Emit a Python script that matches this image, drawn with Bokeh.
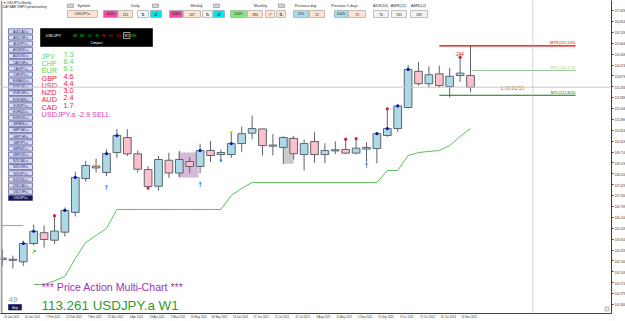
from bokeh.plotting import figure
from bokeh.models import FixedTicker, Span, Label, CustomJSTickFormatter, Range1d
from bokeh.core.properties import value
from bokeh.embed import file_html
from bokeh.resources import INLINE

FONT = "Liberation Sans"

# ---------------- data ----------------
weeks = list(range(46))
opens = [103.92, 103.86, 103.72, 104.72, 105.31, 104.90, 105.34, 106.42, 108.27, 108.95,
         108.60, 109.69, 110.51, 109.62, 108.76, 107.85, 109.27, 108.57, 109.20, 108.93,
         109.80, 109.58, 109.58, 110.18, 110.75, 110.98, 110.10, 109.97, 110.46, 109.58,
         110.29, 109.58, 109.78, 109.86, 109.66, 109.88, 109.91, 110.62, 111.00, 112.15,
         114.13, 113.45, 113.99, 113.30, 113.90, 113.90]
highs = [104.40, 104.06, 104.88, 105.75, 105.70, 106.24, 106.69, 108.64, 109.23, 109.36,
         109.86, 110.97, 110.96, 109.80, 108.95, 109.50, 109.68, 109.78, 109.45, 110.17,
         110.33, 109.85, 110.82, 111.11, 111.71, 111.00, 110.70, 110.58, 110.60, 110.40,
         110.80, 110.20, 110.30, 110.42, 110.45, 110.25, 110.80, 112.08, 112.26, 114.47,
         114.63, 114.39, 114.44, 114.32, 114.90, 115.52]
lows = [103.50, 103.35, 103.50, 104.61, 104.50, 104.70, 105.10, 106.20, 108.10, 108.60,
        108.40, 109.40, 109.50, 108.60, 107.75, 107.60, 108.31, 108.35, 108.56, 108.56,
        109.18, 109.19, 109.40, 109.71, 110.42, 109.53, 109.53, 109.07, 109.30, 108.71,
        109.13, 109.10, 109.60, 109.60, 109.59, 109.15, 109.10, 110.55, 110.82, 112.10,
        113.35, 113.23, 113.23, 112.70, 113.55, 112.99]
closes = [103.84, 103.80, 104.72, 105.39, 104.94, 105.40, 106.53, 108.33, 108.98, 108.85,
          109.63, 110.62, 109.62, 108.78, 107.83, 109.31, 108.57, 109.31, 108.93, 109.80,
          109.53, 109.69, 110.18, 110.72, 111.00, 110.07, 110.04, 110.51, 109.63, 110.18,
          109.58, 109.80, 109.84, 109.66, 109.93, 109.97, 110.72, 111.00, 112.24, 114.23,
          113.45, 113.94, 113.35, 113.86, 114.03, 113.261]

axis_label_weeks = list(range(0, 46, 2))
axis_labels = ["10 Jan 2021", "24 Jan 2021", "7 Feb 2021", "21 Feb 2021", "7 Mar 2021",
               "21 Mar 2021", "4 Apr 2021", "18 Apr 2021", "2 May 2021", "16 May 2021",
               "30 May 2021", "13 Jun 2021", "27 Jun 2021", "11 Jul 2021", "25 Jul 2021",
               "8 Aug 2021", "22 Aug 2021", "5 Sep 2021", "19 Sep 2021", "3 Oct 2021",
               "17 Oct 2021", "31 Oct 2021", "14 Nov 2021"]
price_ticks = [117.449, 116.854, 116.259, 115.664, 115.069, 114.474, 113.879, 113.284,
               112.689, 112.094, 111.499, 110.904, 110.309, 109.714, 109.119, 108.524,
               107.929, 107.334, 106.739, 106.144, 105.549, 104.954, 104.359, 103.764,
               103.169, 102.574, 101.979, 101.384]
bid_price = 113.261

stop_weeks = list(range(3, 46))
stop_values = [102.48, 102.48, 102.68, 102.92, 103.90, 104.78, 105.16, 105.54, 106.58,
               106.58, 106.58, 106.58, 106.58, 106.58, 106.58, 106.58, 106.58, 106.58, 106.58,
               107.34, 107.73,
               108.05, 108.05, 108.05, 108.05, 108.05, 108.05, 108.05, 108.05, 108.05, 108.05,
               108.05, 108.05, 108.05,
               108.71, 108.71, 109.53, 109.69, 109.75, 109.80, 110.07, 110.57, 111.00]

blue_dot_weeks = [2, 3, 6, 7, 10, 11, 19, 22, 36, 37, 38, 39]
red_high_weeks = [5, 33, 34, 37, 44]
red_low_weeks = [14]
yellow_dot_weeks = [9, 22]
yellow_dot_prices = [109.05, 110.80]
small_blue_weeks = [21]
small_blue_prices = [109.25]
up_arrow_weeks = [10, 19, 35]
up_arrow_prices = [107.75, 107.92, 108.96]
green_arrow_weeks = [3]
green_arrow_prices = [104.28]

level_names = ["MTR(115.520)", "MTL(114.174)", "MTL(112.820)"]
level_values = [115.520, 114.174, 112.820]
level_start_weeks = [42, 45, 42]
level_end_week = 55.1
level_colors = ["#e00000", "#9ccc9c", "#0a7a0a"]

pink_level = 105.70
pink_weeks = [-0.2, 2.0]

purple_zone = [16.92, 18.85, 109.69, 108.33]   # left, right, top, bottom
gray_zone = [27.0, 28.0, 110.51, 109.08]
future_line_week = 51.0

currencies = ["JPY", "CHF", "EUR", "GBP", "USD", "NZD", "AUD", "CAD"]
strengths = [7.3, 6.4, 6.1, 4.6, 4.4, 3.0, 2.4, 1.7]
pair_signal = "USDJPY.a -2.9 SELL"

symbols = ["AUDCAD.a", "AUDCHF.a", "AUDJPY.a", "AUDNZD.a", "AUDUSD.a", "CADCHF.a", "CADJPY.a",
           "CHFJPY.a", "EURAUD.a", "EURCAD.a", "EURCHF.a", "EURGBP.a", "EURJPY.a", "EURNZD.a",
           "EURUSD.a", "GBPAUD.a", "GBPCAD.a", "GBPCHF.a", "GBPJPY.a", "GBPNZD.a", "GBPUSD.a",
           "NZDCAD.a", "NZDCHF.a", "NZDJPY.a", "NZDUSD.a", "USDCAD.a", "USDCHF.a", "USDJPY.a"]
timeframes = ["M1", "M5", "15", "30", "H1", "H4", "D1", "W1", "MN"]
tf_colors = ["#22cc22", "#22cc22", "#22cc22", "#22cc22", "#e02020", "#b02020", "#e02020", "#ffffff", "#22cc22"]

header_titles = ["Symbol", "Daily", "Weekly", "Monthly", "Previous day", "Previous 5 days",
                 "ADR(10)", "AWR(12)", "AMR(12)"]
daily_vals = ["100%", "231"]
weekly_vals = ["104%", "247"]
monthly_vals = ["104%", "280"]
prevday_vals = ["21%", "22"]
prev5_vals = ["100%", "72"]
range_vals = ["70", "135", "269"]
bar_count = "49"

# ---------------- figure / pixel helpers ----------------
PXW = 10.4      # pixels per week
PXU = 18.3      # pixels per yen
FW, FH = 611, 313
XS = -2 / PXW
YT = bid_price + 86.7 / PXU


def X(px):
    return XS + px / PXW


def Y(py):
    return YT - py / PXU


p = figure(frame_width=FW, frame_height=FH,
           x_range=Range1d(XS, XS + FW / PXW), y_range=Range1d(YT - FH / PXU, YT),
           y_axis_location="right", output_backend="svg", toolbar_location=None,
           min_border_left=0, min_border_top=0, min_border_right=14, min_border_bottom=8,
           background_fill_color="white", border_fill_color="white")
p.outline_line_color = None
p.xgrid.visible = False
p.ygrid.visible = False

ya = p.yaxis[0]
ya.ticker = FixedTicker(ticks=price_ticks)
ya.formatter = CustomJSTickFormatter(code="return tick.toFixed(3);")
ya.major_label_text_font_size = "3px"
ya.major_label_text_font = FONT
ya.major_label_text_color = "#333333"
ya.major_tick_out = 2
ya.major_tick_in = 0
ya.minor_tick_out = 0
ya.minor_tick_in = 0
ya.major_label_standoff = 1
ya.axis_line_color = "#404040"
ya.major_tick_line_color = "#404040"

xa = p.xaxis[0]
xa.ticker = FixedTicker(ticks=[w + 0.875 for w in axis_label_weeks])
xa.formatter = CustomJSTickFormatter(
    args=dict(weeks=axis_label_weeks, labels=axis_labels),
    code="const k = Math.round(tick - 0.875); const i = weeks.indexOf(k); return i >= 0 ? labels[i] : '';")
xa.major_label_text_font_size = "2.8px"
xa.major_label_text_font = FONT
xa.major_label_text_color = "#333333"
xa.major_tick_out = 0
xa.major_tick_in = 0
xa.minor_tick_out = 0
xa.minor_tick_in = 0
xa.major_label_standoff = 1
xa.axis_line_color = "#404040"


def T(px, py, s, size, color="#333333", align="left", baseline="middle", font=FONT, style="normal"):
    p.text(x=[X(px)], y=[Y(py)], text=[s], text_font=value(font), text_font_size=size,
           text_color=color, text_align=align, text_baseline=baseline, text_font_style=style)


box_l, box_r, box_t, box_b, box_f, box_c = [], [], [], [], [], []


def B(x0, y0, x1, y1, fill, line="#9a9a9a"):
    box_l.append(X(x0)); box_r.append(X(x1)); box_t.append(Y(y0)); box_b.append(Y(y1))
    box_f.append(fill); box_c.append(line)


# ---------------- background marks ----------------
p.add_layout(Span(location=bid_price, dimension="width", line_color="#c8c8c8", line_width=1))
p.add_layout(Span(location=future_line_week, dimension="height", line_color="#a8a8a8",
                  line_width=1, line_dash="1 1"))

p.quad(left=[purple_zone[0]], right=[purple_zone[1]], top=[purple_zone[2]], bottom=[purple_zone[3]],
       fill_color="#c9a2c9", fill_alpha=0.75, line_color=None)
p.quad(left=[gray_zone[0]], right=[gray_zone[1]], top=[gray_zone[2]], bottom=[gray_zone[3]],
       fill_color="#b4b4b4", fill_alpha=0.7, line_color=None)

p.line(x=pink_weeks, y=[pink_level, pink_level], line_color="#f070c0", line_width=1)
p.line(x=stop_weeks, y=stop_values, line_color="#5cc05c", line_width=1)

# candles
body_top = [max(o, c) for o, c in zip(opens, closes)]
body_bot = [min(o, c) for o, c in zip(opens, closes)]
fills = ["#add8e6" if c >= o else "#ffc0cb" for o, c in zip(opens, closes)]
p.segment(x0=weeks, y0=lows, x1=weeks, y1=highs, line_color="#5b6470", line_width=1)
p.vbar(x=weeks, width=0.74, top=body_top, bottom=body_bot, fill_color=fills,
       line_color="#5b6470", line_width=1)

# dots & arrows
p.scatter(x=blue_dot_weeks, y=[closes[w] for w in blue_dot_weeks], size=3.2,
          fill_color="#0a1aa0", line_color=None)
p.scatter(x=red_high_weeks + red_low_weeks,
          y=[highs[w] for w in red_high_weeks] + [lows[w] for w in red_low_weeks],
          size=3.2, fill_color="#d8203a", line_color=None)
p.scatter(x=yellow_dot_weeks, y=yellow_dot_prices, size=2.5, fill_color="#e8c020", line_color=None)
p.scatter(x=small_blue_weeks, y=small_blue_prices, size=2.5, fill_color="#3a7fe0", line_color=None)
p.text(x=up_arrow_weeks, y=up_arrow_prices, text=["\u2191"] * len(up_arrow_weeks),
       text_font=value("DejaVu Sans"), text_font_size="7px", text_font_style="bold",
       text_color="#3a80e8", text_align="center", text_baseline="middle")
p.text(x=green_arrow_weeks, y=green_arrow_prices, text=["\u2197"] * len(green_arrow_weeks),
       text_font=value("DejaVu Sans"), text_font_size="6px", text_font_style="bold",
       text_color="#2db82d", text_align="center", text_baseline="middle")

# level lines
p.segment(x0=level_start_weeks, y0=level_values, x1=[level_end_week] * 3, y1=level_values,
          line_color=level_colors, line_width=1.2)
p.text(x=[level_end_week] * 3, y=level_values, text=level_names, text_font=value(FONT),
       text_font_size="4px", text_color=level_colors, text_align="right", text_baseline="bottom",
       y_offset=-0.5)
p.text(x=[44], y=[highs[44]], text=["244"], text_font=value(FONT), text_font_size="4.5px",
       text_color="#d81020", text_align="center", text_baseline="bottom", y_offset=-1.5)
T(500, 87, "1:00:00:53", "5px", "#c86a28")

# ---------------- header panel ----------------
B(0, 0, 2, 313, "#a0a0a0", None)
title_x = [83, 135, 196, 260, 305, 344, 380, 398, 418]
for tx, tt in zip(title_x, header_titles):
    T(tx, 5, tt, "3.8px", "#303030", align="center")
for gx in [67, 152, 213, 278]:
    B(gx, 3.5, gx + 6, 7, "#d4d4d4", "#8a8a8a")

PEACH = "#fde4d0"
hdr_boxes = [
    (67, 97, "USDJPY.a", PEACH),
    (103, 117, daily_vals[0], "#f04ca8"), (118, 132, daily_vals[1], PEACH),
    (137, 148, "", "#f4f4f4"), (150, 161, "", "#00e4ee"),
    (169, 182, weekly_vals[0], "#f04ca8"), (183, 200, weekly_vals[1], PEACH),
    (202, 212, "", "#f4f4f4"), (213, 224, "", "#00e4ee"),
    (230, 246, monthly_vals[0], "#80ea80"), (247, 262, monthly_vals[1], PEACH),
    (265, 274, "", PEACH), (276, 285, "", PEACH),
    (293, 308, prevday_vals[0], "#a8dcea"), (309, 324, prevday_vals[1], PEACH),
    (334, 347, prev5_vals[0], "#a8dcea"), (348, 365, prev5_vals[1], PEACH),
    (373, 388, range_vals[0], "#f2f2f2"), (391, 406, range_vals[1], "#f2f2f2"),
    (410, 427, range_vals[2], "#f2f2f2"),
]
for x0, x1, s, f in hdr_boxes:
    B(x0, 10, x1, 17, f, "#9a9a9a")

# symbol buttons
for k, s in enumerate(symbols):
    top = 28.3 + 6.17 * k
    sel = (k == len(symbols) - 1)
    B(8, top, 32, top + 5, "#14145a" if sel else "#d6daf2", "#303080")

# black timeframe panel
B(40, 28, 152, 46, "#000000", "#000000")
B(123, 32, 129.5, 38, "#000000", "#ffffff")
B(8, 304, 21, 309.5, "#14145a", "#14145a")
B(604.5, 306.5, 608.5, 310.5, "#e8e8e8", "#9a9a9a")

p.quad(left=box_l, right=box_r, top=box_t, bottom=box_b, fill_color=box_f, line_color=box_c,
       line_width=0.6)

for x0, x1, s, f in hdr_boxes:
    if s:
        T((x0 + x1) / 2, 13.6, s, "3.3px", "#202020", align="center")
for cx, sym in [(142.5, "\u21c5"), (155.5, "\u21f5"), (207, "\u21c5"), (218.5, "\u21f5"),
                (269.5, "\u2197"), (280.5, "\u21c5")]:
    T(cx, 13.6, sym, "4.5px", "#c06010" if sym == "\u2197" else "#202020", align="center",
      font="DejaVu Sans")

T(2.5, 2.5, "\u25bc USDJPY.a,Weekly", "3px", "#202020")
T(2.5, 6.5, "DAY BAR,TIMPO period working", "3px", "#202020")

for k, s in enumerate(symbols):
    top = 28.3 + 6.17 * k
    sel = (k == len(symbols) - 1)
    T(20, top + 2.6, s, "3px", "#ffffff" if sel else "#1a1a60", align="center")

T(45, 35, "USDJPY", "4px", "#ffffff")
tf_x = [75, 81.7, 89.3, 96.7, 103.3, 110, 118.3, 126.2, 133.3]
for tx, tf, tc in zip(tf_x, timeframes, tf_colors):
    T(tx, 35, tf, "3.3px", tc, align="center")
T(96, 42.5, "Compact", "3px", "#ffffff", align="center")

# currency strength list
for k, (cur, val) in enumerate(zip(currencies, strengths)):
    col = "#5fd35f" if val >= 5 else "#ee2244"
    yy = 51.5 + 7.23 * k
    T(41, yy, cur, "7.3px", col, baseline="top")
    T(63, yy, f"{val:.1f}", "7.3px", col, baseline="top")
T(41, 51.5 + 7.23 * 8, pair_signal, "7.3px", "#dd3fae", baseline="top")

# bottom-left texts
T(8, 298.5, bar_count, "8px", "#9a9a9a", baseline="middle")
T(14.5, 306.8, "Help", "3px", "#ffffff", align="center")
T(41, 286.8, "*** Price Action Multi-Chart ***", "10.6px", "#9b35b0", baseline="middle")
T(41, 305.0, f"{bid_price:.3f} USDJPY.a W1", "13.4px", "#2e9b2e", baseline="middle")

# bid price marker on axis
p.add_layout(Label(x=X(611.3), y=bid_price, text=f"{bid_price:.3f}", text_font=FONT,
                   text_font_size="3px", text_color="#ffffff", text_baseline="middle",
                   background_fill_color="#000000"))

open("out.html", "w").write(file_html(p, INLINE))
